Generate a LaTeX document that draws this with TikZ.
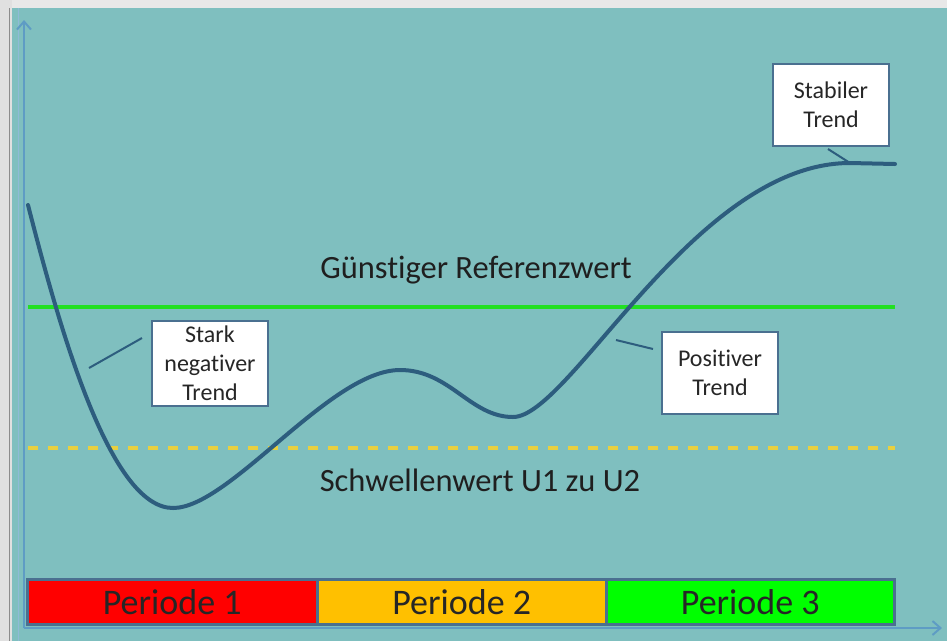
\documentclass[tikz,border=0pt]{standalone}
\usepackage{fontspec}
\setmainfont{Carlito}[Ligatures=NoCommon]
\usetikzlibrary{arrows.meta}
\definecolor{bg}{HTML}{7FBFBF}
\definecolor{axisc}{HTML}{5E9CC4}
\definecolor{curvec}{HTML}{2D5D7E}
\definecolor{boxc}{HTML}{4A7090}
\definecolor{grn}{HTML}{22E022}
\definecolor{thrcol}{HTML}{E8D040}
\definecolor{p1}{HTML}{FF0000}
\definecolor{p2}{HTML}{FFC000}
\definecolor{p3}{HTML}{00FF00}
\tikzset{
  x=1pt, y=-1pt,
  lbox/.style={draw=boxc, line width=2pt, fill=white, minimum width=116pt, align=center, font=\fontsize{24}{29}\selectfont, text=black!85, inner sep=2pt},
  pbar/.style={draw=boxc, line width=2.5pt, minimum height=45pt, font=\fontsize{36}{40}\selectfont, text=black!85, inner sep=0pt},
  conn/.style={draw=curvec, line width=2pt},
  biglbl/.style={font=\fontsize{32.5}{36}\selectfont, text=black!88}
}
\begin{document}
\begin{tikzpicture}
\useasboundingbox (0,0) rectangle (947,641);
\fill[bg] (0,0) rectangle (947,641);
\fill[black!9] (0,0) rectangle (947,8);
\fill[black!12] (0,0) rectangle (12,641);
\draw[black!45, line width=1pt] (9,8) -- (9,641);
\draw[axisc!70!white, line width=1pt] (18,8) -- (18,641);
% axes
\coordinate (yb) at (24,628);
\coordinate (yt) at (24,20);
\coordinate (xr) at (942,628);
\draw[axisc, line width=2pt, -{Straight Barb[length=8pt,width=14pt]}] (yb) -- (yt);
\draw[axisc, line width=2pt, -{Straight Barb[length=8pt,width=14pt]}] (yb) -- (xr);
% reference lines
\coordinate (gL) at (28,307);
\coordinate (gR) at (895,307);
\draw[grn, line width=3.5pt] (gL) -- (gR);
\coordinate (dL) at (28,448);
\coordinate (dR) at (895,448);
\draw[thrcol, line width=3.5pt, dash pattern=on 10pt off 10pt] (dL) -- (dR);
\node[biglbl] (ref) at (476,270) {Günstiger Referenzwert};
\node[biglbl] (thr) at (480,480) {Schwellenwert U1 zu U2};
% curve
\coordinate (k0) at (28,205);
\coordinate (k1) at (173,508);
\coordinate (k2) at (400,370);
\coordinate (k3) at (513,417);
\coordinate (k4) at (850,163);
\coordinate (k5) at (895,164);
\draw[curvec, line width=4pt, line cap=round]
  (k0) .. controls (60,330) and (110,508) .. (k1)
       .. controls (230,508) and (330,370) .. (k2)
       .. controls (450,370) and (470,417) .. (k3)
       .. controls (570,417) and (695,163) .. (k4)
       -- (k5);
\coordinate (c1) at (89,368);
\coordinate (c2) at (616,340);
% boxes
\node[lbox, minimum height=85pt] (b1) at (210,363.5) {Stark\\negativer\\Trend};
\node[lbox, minimum height=82pt] (b2) at (720,373) {Positiver\\Trend};
\node[lbox, minimum height=82pt] (b3) at (831,105) {Stabiler\\Trend};
\draw[conn] (c1) -- (142,338);
\draw[conn] (c2) -- (653,349);
\draw[conn] (k4) -- (828,149);
% period bar
\node[pbar, fill=p1, minimum width=290pt, anchor=north west] (per1) at (26,578) {Periode 1};
\node[pbar, fill=p2, minimum width=289pt, anchor=north west] (per2) at (316,578) {Periode 2};
\node[pbar, fill=p3, minimum width=288pt, anchor=north west] (per3) at (605,578) {Periode 3};
\end{tikzpicture}
\end{document}
